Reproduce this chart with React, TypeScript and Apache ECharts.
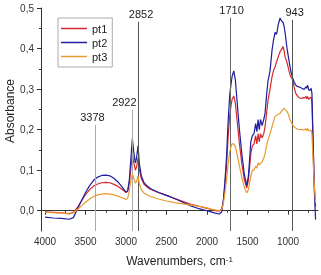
import React, { useEffect, useRef } from "react";
import * as echarts from "echarts";

const wavenumbers = [
  4000, 3900, 3800, 3700, 3650, 3600, 3550, 3500, 3450, 3400, 3350, 3300, 3250, 3200, 3150, 3100, 3050, 3000,
  2980, 2960, 2940, 2922, 2905, 2885, 2870, 2852, 2835, 2810, 2780, 2750, 2700, 2600, 2500, 2400, 2300, 2200,
  2100, 2000, 1950, 1900, 1850, 1820, 1800, 1780, 1760, 1740, 1720, 1705, 1690, 1670, 1650, 1630, 1600, 1570,
  1540, 1510, 1490, 1475, 1460, 1440, 1420, 1400, 1385, 1370, 1355, 1340, 1320, 1300, 1284, 1265, 1247, 1222,
  1198, 1180, 1160, 1145, 1136, 1120, 1099, 1080, 1062, 1049, 1037, 1012, 1000, 975, 960, 943, 925, 906, 880,
  857, 830, 810, 796, 780, 770, 759, 745, 730, 715, 705, 690, 675, 660,
];

const pt1 = [
  -0.003, -0.004, -0.005, -0.007, -0.004, 0.008, 0.024, 0.04, 0.052, 0.061, 0.066, 0.069, 0.07, 0.069, 0.065, 0.06, 0.053, 0.045,
  0.048, 0.068, 0.105, 0.14, 0.12, 0.1, 0.108, 0.13, 0.1, 0.078, 0.066, 0.06, 0.053, 0.045, 0.038, 0.03, 0.023, 0.016,
  0.011, 0.006, 0.003, 0.0, -0.001, 0.004, 0.022, 0.06, 0.11, 0.18, 0.235, 0.258, 0.275, 0.283, 0.265, 0.225, 0.165, 0.115,
  0.078, 0.056, 0.075, 0.105, 0.14, 0.16, 0.165, 0.185, 0.165, 0.19, 0.17, 0.19, 0.18, 0.19, 0.207, 0.24, 0.273, 0.3,
  0.33, 0.345, 0.355, 0.365, 0.37, 0.38, 0.392, 0.398, 0.405, 0.395, 0.38, 0.365, 0.355, 0.335, 0.328, 0.323, 0.305, 0.29, 0.282,
  0.278, 0.277, 0.279, 0.278, 0.282, 0.276, 0.282, 0.275, 0.278, 0.28, 0.265, 0.16, 0.06, 0.01,
];

const pt2 = [
  -0.016, -0.018, -0.019, -0.021, -0.017, 0.004, 0.025, 0.045, 0.062, 0.075, 0.083, 0.087, 0.088, 0.086, 0.08, 0.071, 0.059, 0.046,
  0.049, 0.075, 0.13, 0.178, 0.145, 0.118, 0.13, 0.16, 0.115, 0.085, 0.07, 0.063, 0.055, 0.045, 0.038, 0.03, 0.021, 0.012,
  0.005, 0.0, -0.003, -0.006, -0.008, -0.003, 0.022, 0.07, 0.13, 0.22, 0.285, 0.31, 0.332, 0.345, 0.322, 0.272, 0.2, 0.14,
  0.09, 0.062, 0.085, 0.125, 0.17, 0.185, 0.19, 0.215, 0.195, 0.225, 0.2, 0.225, 0.21, 0.225, 0.24, 0.285, 0.32, 0.345,
  0.395, 0.42, 0.44, 0.435, 0.44, 0.46, 0.475, 0.468, 0.465, 0.455, 0.44, 0.4, 0.385, 0.355, 0.34, 0.327, 0.318, 0.31, 0.306,
  0.305, 0.302, 0.3, 0.3, 0.306, 0.302, 0.31, 0.298, 0.297, 0.302, 0.29, 0.17, 0.05, -0.022,
];

const pt3 = [
  -0.004, -0.005, -0.006, -0.008, -0.005, 0.003, 0.012, 0.021, 0.029, 0.035, 0.039, 0.041, 0.042, 0.041, 0.039, 0.036, 0.032, 0.028,
  0.031, 0.048, 0.075, 0.09, 0.08, 0.068, 0.072, 0.085, 0.066, 0.052, 0.044, 0.04, 0.035, 0.029, 0.024, 0.02, 0.017, 0.014,
  0.011, 0.007, 0.004, 0.002, 0.0, 0.003, 0.016, 0.042, 0.075, 0.115, 0.145, 0.158, 0.165, 0.165, 0.158, 0.14, 0.11, 0.082,
  0.058, 0.044, 0.052, 0.068, 0.085, 0.1, 0.1, 0.11, 0.105, 0.118, 0.113, 0.117, 0.12, 0.13, 0.14, 0.16, 0.175, 0.19,
  0.207, 0.22, 0.232, 0.235, 0.236, 0.238, 0.24, 0.246, 0.25, 0.253, 0.25, 0.245, 0.24, 0.224, 0.218, 0.212, 0.207, 0.204, 0.201,
  0.2, 0.2, 0.199, 0.2, 0.202, 0.198, 0.203, 0.197, 0.198, 0.199, 0.19, 0.12, 0.06, 0.02,
];

const seriesNames = ["pt1", "pt2", "pt3"];
const seriesColors = ["#d42a2e", "#1e1e9e", "#e89a30"];

const xTickLabels = [4000, 3500, 3000, 2500, 2000, 1500, 1000];
const xMinorTicks = [3750, 3250, 2750, 2250, 1750, 1250, 750];
const yTickLabels = [0, 0.1, 0.2, 0.3, 0.4, 0.5];
const yMinorTicks = [0.05, 0.15, 0.25, 0.35, 0.45];

const peakMarks = [3378, 2922, 2852, 1710, 943];
const peakTops = [0.212, 0.249, 0.466, 0.476, 0.471];
const peakColors = ["#aaaaaa", "#aaaaaa", "#555555", "#666666", "#555555"];
const peakLabelOffsets = [-3, -8, 3, 1, 2];

const X_MIN = 630;
const X_MAX = 4050;
const Y_MIN = -0.05;
const Y_MAX = 0.5;

export default function App() {
  const ref = useRef<HTMLDivElement>(null);

  useEffect(() => {
    if (!ref.current) return;
    document.body.style.margin = "0";
    const chart = echarts.init(ref.current, undefined, { renderer: "svg" });
    const allData = [pt1, pt2, pt3];
    const axisColor = "#333";
    const font = "Liberation Sans, Arial, sans-serif";

    const series: any[] = allData.map((arr, i) => ({
      name: seriesNames[i],
      type: "line",
      data: wavenumbers.map((w, j) => [w, arr[j]]),
      symbol: "none",
      showSymbol: false,
      lineStyle: { width: 1.2, color: seriesColors[i] },
      itemStyle: { color: seriesColors[i] },
      z: 3 + i,
    }));

    series.push({
      name: "peaks",
      type: "line",
      data: [],
      silent: true,
      z: 2,
      markLine: {
        silent: true,
        symbol: ["none", "none"],
        animation: false,
        label: {
          show: true,
          position: "end",
          distance: 2,
          formatter: "{b}",
          fontSize: 11,
          color: "#222",
          fontFamily: font,
        },
        data: peakMarks.map((w, i) => [
          {
            name: String(w),
            coord: [w, Y_MIN],
            lineStyle: { color: peakColors[i], width: 1, type: "solid" },
            label: { offset: [peakLabelOffsets[i], 0] },
          },
          { coord: [w, peakTops[i]] },
        ]),
      },
    });

    chart.setOption({
      animation: false,
      textStyle: { fontFamily: font },
      grid: { left: 41, right: 3, top: 8, bottom: 44, containLabel: false },
      legend: {
        data: seriesNames,
        orient: "vertical",
        left: 58,
        top: 18,
        icon: "rect",
        itemWidth: 26,
        itemHeight: 1.5,
        itemGap: 1,
        padding: [4, 5, 4, 3],
        borderColor: "#aaaaaa",
        borderWidth: 1,
        textStyle: { fontSize: 11, color: "#222", fontFamily: font, lineHeight: 13 },
      },
      xAxis: [
        {
          type: "value",
          inverse: true,
          min: X_MIN,
          max: X_MAX,
          position: "bottom",
          name: "Wavenumbers, cm{sup|-1}",
          nameLocation: "middle",
          nameGap: 24,
          nameTextStyle: {
            fontSize: 12,
            color: "#222",
            fontFamily: font,
            rich: { sup: { fontSize: 8, verticalAlign: "top", color: "#222", fontFamily: font } },
          },
          axisLine: { show: true, lineStyle: { color: axisColor, width: 1 } },
          axisTick: { show: true, inside: false, length: 4, customValues: xTickLabels, lineStyle: { color: axisColor } },
          axisLabel: {
            show: true,
            customValues: xTickLabels,
            fontSize: 10,
            color: "#333",
            margin: 5,
            fontFamily: font,
            formatter: (v: number) => String(v),
          },
          splitLine: { show: false },
        },
        {
          type: "value",
          inverse: true,
          min: X_MIN,
          max: X_MAX,
          position: "bottom",
          axisLine: { show: false },
          axisTick: { show: true, inside: false, length: 2, customValues: xMinorTicks, lineStyle: { color: axisColor } },
          axisLabel: { show: false },
          splitLine: { show: false },
        },
      ],
      yAxis: [
        {
          type: "value",
          min: Y_MIN,
          max: Y_MAX,
          axisLine: { show: true, lineStyle: { color: axisColor, width: 1 } },
          axisTick: { show: true, inside: false, length: 4, customValues: yTickLabels, lineStyle: { color: axisColor } },
          axisLabel: {
            show: true,
            customValues: yTickLabels,
            fontSize: 10,
            color: "#333",
            margin: 7,
            fontFamily: font,
            formatter: (v: number) => v.toFixed(1).replace(".", ","),
          },
          splitLine: { show: false },
        },
        {
          type: "value",
          min: Y_MIN,
          max: Y_MAX,
          axisLine: { show: false },
          axisTick: { show: true, inside: false, length: 2, customValues: yMinorTicks, lineStyle: { color: axisColor } },
          axisLabel: { show: false },
          splitLine: { show: false },
          position: "left",
        },
      ],
      graphic: [
        {
          type: "text",
          x: 10,
          y: 111,
          rotation: Math.PI / 2,
          style: {
            text: "Absorbance",
            fontSize: 12,
            fill: "#222",
            fontFamily: font,
            textAlign: "center",
            textVerticalAlign: "middle",
          },
        },
      ],
      series,
    });

    return () => chart.dispose();
  }, []);

  return <div ref={ref} style={{ position: "fixed", left: 0, top: 0, width: 321, height: 275 }} />;
}
